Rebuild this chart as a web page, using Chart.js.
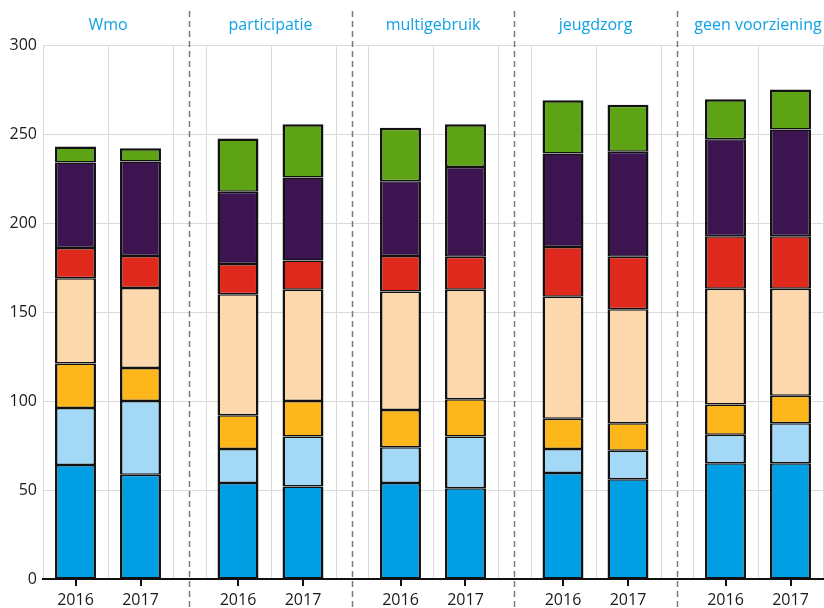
<!DOCTYPE html>
<html><head><meta charset="utf-8">
<script src="https://cdn.jsdelivr.net/npm/chart.js@4.4.1/dist/chart.umd.min.js"></script>
<style>html,body{margin:0;padding:0;background:#fff}</style>
</head><body>
<canvas id="c" width="824" height="608"></canvas>
<script>
const groups = ['Wmo', 'participatie', 'multigebruik', 'jeugdzorg', 'geen voorziening'];
const years = ['2016', '2017'];
// bars in order: Wmo 2016, Wmo 2017, participatie 2016, participatie 2017, ...
const seriesBlue      = [64, 58.5, 54, 52, 54, 51, 59.5, 56, 65, 65];
const seriesLightBlue = [32, 41.5, 19, 28, 20, 29, 13.5, 16, 16, 22.5];
const seriesOrange    = [25, 18.5, 19, 20, 21, 21, 17, 15.5, 17, 15.5];
const seriesPeach     = [48, 45, 68, 62.5, 66.5, 61.5, 68.5, 64, 65, 60];
const seriesRed       = [17, 18, 17, 16.5, 20, 18.5, 28, 29.5, 29.5, 29.5];
const seriesPurple    = [48, 53, 40.5, 46.5, 42, 50.5, 52.5, 59, 54.5, 60];
const seriesGreen     = [9, 7.5, 30, 30, 30, 24, 30, 26.5, 22.5, 22.5];
const yTicks = [0, 50, 100, 150, 200, 250, 300];

// layout on a linear index scale: each bar occupies 2 units, each gap between groups 1 unit
const UNITS_PER_GROUP = 5;
const barX = [];
const barLabel = {};
groups.forEach((g, gi) => years.forEach((y, yi) => {
  const xv = gi * UNITS_PER_GROUP + 1 + 2 * yi;
  barX.push(xv); barLabel[xv] = y;
}));
const xMax = groups.length * UNITS_PER_GROUP - 1;
const boundaries = [];
groups.forEach((g, gi) => { const s = gi * UNITS_PER_GROUP; boundaries.push(s, s + 2, s + 4); });
const separators = groups.slice(1).map((g, gi) => gi * UNITS_PER_GROUP + 4.5);
const groupCenters = groups.map((g, gi) => gi * UNITS_PER_GROUP + 2);

const mk = (vals, color, last) => ({
  data: vals.map((v, i) => ({ x: barX[i], y: v })),
  backgroundColor: color,
  borderColor: '#111111',
  borderWidth: { left: 2.5, right: 2.5, top: last ? 2.5 : 1.5, bottom: 1.5 },
  borderSkipped: false,
  barPercentage: 0.63,
  categoryPercentage: 1
});

const groupPlugin = {
  id: 'groupDeco',
  beforeDatasetsDraw(chart) {
    const { ctx, chartArea, scales: { x } } = chart;
    ctx.save();
    ctx.strokeStyle = '#dadada';
    ctx.lineWidth = 1;
    boundaries.forEach(v => {
      const px = Math.round(x.getPixelForValue(v)) + 0.5;
      ctx.beginPath(); ctx.moveTo(px, chartArea.top); ctx.lineTo(px, chartArea.bottom - 1); ctx.stroke();
    });
    ctx.restore();
  },
  afterDraw(chart) {
    const { ctx, scales: { x } } = chart;
    ctx.save();
    ctx.strokeStyle = '#7a7a7a';
    ctx.lineWidth = 1.5;
    ctx.setLineDash([6, 4]);
    separators.forEach(v => {
      const px = Math.round(x.getPixelForValue(v)) + 0.5;
      ctx.beginPath(); ctx.moveTo(px, 11); ctx.lineTo(px, chart.height); ctx.stroke();
    });
    ctx.setLineDash([]);
    ctx.fillStyle = '#0ea2e6';
    ctx.font = '16px "Open Sans", sans-serif';
    ctx.textAlign = 'center';
    ctx.textBaseline = 'middle';
    groupCenters.forEach((v, i) => ctx.fillText(groups[i], x.getPixelForValue(v), 25));
    ctx.restore();
  }
};

new Chart(document.getElementById('c'), {
  type: 'bar',
  data: {
    datasets: [
      mk(seriesBlue, '#009fe3'),
      mk(seriesLightBlue, '#a3d9f7'),
      mk(seriesOrange, '#fdb71a'),
      mk(seriesPeach, '#fed8ad'),
      mk(seriesRed, '#e0291d'),
      mk(seriesPurple, '#3b1450'),
      mk(seriesGreen, '#5ea313', true)
    ]
  },
  options: {
    responsive: false,
    animation: false,
    layout: { padding: { top: 45, right: 1, left: 0, bottom: 0 } },
    plugins: { legend: { display: false }, tooltip: { enabled: false } },
    scales: {
      x: {
        type: 'linear', stacked: true, min: 0, max: xMax, offset: false,
        afterBuildTicks: s => { s.ticks = barX.map(v => ({ value: v })); },
        afterFit: s => { s.height = 29; },
        ticks: {
          autoSkip: false, maxRotation: 0, padding: 5,
          font: { family: '"Open Sans", sans-serif', size: 16 }, color: '#1a1a1a',
          callback: v => barLabel[v] || ''
        },
        grid: { offset: false, drawOnChartArea: false, drawTicks: true, tickLength: 7, color: '#111', lineWidth: 2 },
        border: { display: true, color: '#111', width: 2 }
      },
      y: {
        stacked: true, min: 0, max: 300,
        afterBuildTicks: s => { s.ticks = yTicks.map(v => ({ value: v })); },
        afterFit: s => { s.width = 43; },
        ticks: { padding: 6, font: { family: '"Open Sans", sans-serif', size: 16 }, color: '#1a1a1a' },
        grid: { color: '#dadada', lineWidth: 1, drawTicks: false },
        border: { display: false }
      }
    }
  },
  plugins: [groupPlugin]
});
</script>
</body></html>
